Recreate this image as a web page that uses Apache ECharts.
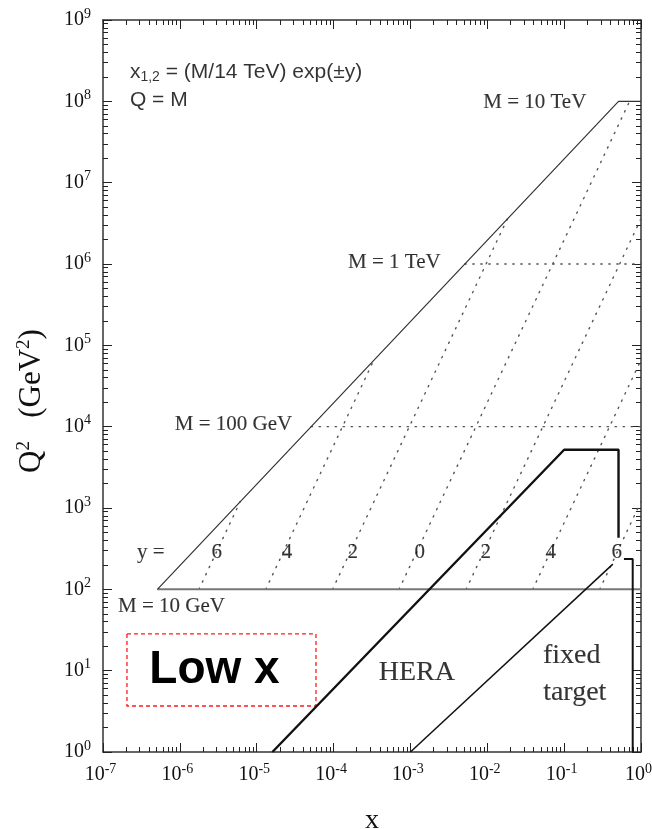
<!DOCTYPE html>
<html>
<head>
<meta charset="utf-8">
<title>LHC parton kinematics</title>
<script src="https://cdn.jsdelivr.net/npm/echarts@6/dist/echarts.min.js"></script>
<style>
  html, body { margin: 0; padding: 0; background: #fff; }
  #chart { width: 652px; height: 829px; }
</style>
</head>
<body>
<div id="chart"></div>
<script>
// axis decades (powers of ten) and minor tick multipliers
var xDecades = [-7, -6, -5, -4, -3, -2, -1, 0]
var yDecades = [0, 1, 2, 3, 4, 5, 6, 7, 8, 9]
var minorSteps = [2, 3, 4, 5, 6, 7, 8, 9]

// kinematic limit x = M^2/s, flat at M = 10 TeV
var limitX = [5.1e-7, 0.51, 1]
var limitQ2 = [1e2, 1e8, 1e8]

// M = 10 GeV
var floorX = [5.1e-7, 1]
var floorQ2 = [1e2, 1e2]

// constant rapidity lines, from Q^2 = 100 up to the limit (or x = 1)
var rapidityLabels = ['6', '4', '2', '0', '2', '4', '6']
var rapidityStartX = [1.77e-6, 1.31e-5, 9.7e-5, 7.1e-4, 5.3e-3, 3.9e-2, 0.29]
var rapidityEndX = [6.1e-6, 3.35e-4, 1.83e-2, 0.71, 1, 1, 1]
var rapidityEndQ2 = [1.2e3, 6.6e4, 3.6e6, 1e8, 3.6e6, 6.6e4, 1.2e3]

// M = 100 GeV, M = 1 TeV
var massStartX = [5.1e-5, 5.1e-3]
var massQ2 = [1e4, 1e6]

// HERA
var heraX = [1.6e-5, 0.1, 0.51, 0.51]
var heraQ2 = [1, 5.2e3, 5.2e3, 430]

// fixed target
var fixedX = [1e-3, 0.43]
var fixedQ2 = [1, 204]
var fixedEdgeX = [0.6, 0.78, 0.78]
var fixedEdgeQ2 = [236, 236, 1]

// "Low x" box corners [x, Q^2]
var lowXBox = [[2.05e-7, 28.3], [5.9e-5, 3.68]]

var SERIF = 'Liberation Serif'
var SANS = 'Liberation Sans'

function pts (xs, ys) {
  return xs.map(function (x, i) { return [Math.log10(x), Math.log10(ys[i])] })
}

function minorValues (decades) {
  var out = []
  decades.slice(0, -1).forEach(function (d) {
    minorSteps.forEach(function (k) { out.push(d + Math.log10(k)) })
  })
  return out
}

var powRich = {
  b: { fontFamily: SERIF, fontSize: 20, color: '#111' },
  s: { fontFamily: SERIF, fontSize: 14, color: '#111', padding: [0, 0, 12, 0] },
  p: { width: 5 }
}

function powLabel (v) {
  return '{b|10}{s|' + Math.round(v) + '}'
}
// x labels sit a little left of their tick
function powLabelX (v) {
  return powLabel(v) + '{p|}'
}

function axisDef (dim, position, minor, extra) {
  var decades = dim === 'x' ? xDecades : yDecades
  var a = {
    type: 'value',
    position: position,
    min: decades[0],
    max: decades[decades.length - 1],
    interval: 1,
    splitLine: { show: false },
    axisLine: { show: !minor, onZero: false, lineStyle: { color: '#333', width: 1.5 } },
    axisTick: {
      inside: true,
      length: minor ? 5 : 9,
      lineStyle: { color: '#222', width: 1 }
    },
    axisLabel: { show: false }
  }
  if (minor) a.axisTick.customValues = minorValues(decades)
  return Object.assign(a, extra || {})
}

var xAxes = [
  axisDef('x', 'bottom', false, {
    name: 'x',
    nameLocation: 'middle',
    nameGap: 55,
    nameTextStyle: { fontFamily: SERIF, fontSize: 28, color: '#111' },
    axisLabel: {
      show: true, margin: 10, showMinLabel: true, showMaxLabel: true,
      formatter: powLabelX, rich: powRich
    }
  }),
  axisDef('x', 'bottom', true),
  axisDef('x', 'top', false),
  axisDef('x', 'top', true)
]

var yAxes = [
  axisDef('y', 'left', false, {
    name: '{q|Q}{s|2}{q|   (GeV}{s|2}{q|)}',
    nameLocation: 'middle',
    nameRotate: 90,
    nameGap: 54,
    nameTextStyle: {
      padding: [0, 30, 0, 0],
      rich: {
        q: { fontFamily: SERIF, fontSize: 31, color: '#111' },
        s: { fontFamily: SERIF, fontSize: 19, color: '#111', padding: [0, 0, 15, 0] }
      }
    },
    axisLabel: {
      show: true, margin: 12, showMinLabel: true, showMaxLabel: true,
      formatter: powLabel, rich: powRich
    }
  }),
  axisDef('y', 'left', true),
  axisDef('y', 'right', false),
  axisDef('y', 'right', true)
]

function line (data, style, z) {
  return {
    type: 'line',
    data: data,
    symbol: 'none',
    silent: true,
    animation: false,
    z: z || 2,
    lineStyle: style
  }
}

var dotted = { color: '#555', width: 1.4, type: [1.4, 6.6], cap: 'round' }

var series = []
series.push(line(pts(floorX, floorQ2), { color: '#777', width: 2 }))
series.push(line(pts(limitX, limitQ2), { color: '#333', width: 1.2 }))
rapidityStartX.forEach(function (x0, i) {
  series.push(line(pts([x0, rapidityEndX[i]], [1e2, rapidityEndQ2[i]]), dotted, 1))
})
massStartX.forEach(function (x0, i) {
  series.push(line(pts([x0, 1], [massQ2[i], massQ2[i]]), dotted, 1))
})
var hera = line(pts(heraX, heraQ2), { color: '#111', width: 2.4 }, 3)
hera.markArea = {
  silent: true,
  itemStyle: { color: 'rgba(0,0,0,0)', borderColor: '#ff1a1a', borderWidth: 1.3, borderType: [4, 3] },
  label: {
    show: true, position: 'inside', offset: [-7, 0],
    fontFamily: SANS, fontSize: 46, fontWeight: 'bold', color: '#000'
  },
  data: [[
    { name: 'Low x', coord: pts([lowXBox[0][0]], [lowXBox[0][1]])[0] },
    { coord: pts([lowXBox[1][0]], [lowXBox[1][1]])[0] }
  ]]
}
series.push(hera)
series.push(line(pts(fixedX, fixedQ2), { color: '#111', width: 1.5 }, 3))
series.push(line(pts(fixedEdgeX, fixedEdgeQ2), { color: '#111', width: 2 }, 3))

// text notes: [text, x, Q^2, style]
var ink = { color: '#000', textBorderColor: '#000', textBorderWidth: 0.12 }
var serif21 = Object.assign({ fontFamily: SERIF, fontSize: 21 }, ink)
var serif28 = Object.assign({ fontFamily: SERIF, fontSize: 28 }, ink)
var notes = [
  ['{t|x}{sub|1,2}{t| = (M/14 TeV) exp(±y)}', 2.24e-7, 2.31e8, {
    align: 'left',
    rich: {
      t: { fontFamily: SANS, fontSize: 21, color: '#000' },
      sub: { fontFamily: SANS, fontSize: 14, color: '#000', padding: [10, 0, 0, 0] }
    }
  }],
  ['Q = M', 2.24e-7, 1.02e8, { align: 'left', fontFamily: SANS, fontSize: 21, color: '#000' }],
  ['M = 10 TeV', 0.0415, 9.6e7, serif21],
  ['M = 1 TeV', 6.18e-4, 1.04e6, serif21],
  ['M = 100 GeV', 4.98e-6, 1.05e4, serif21],
  ['M = 10 GeV', 7.78e-7, 60.8, serif21],
  ['y =', 4.2e-7, 280, serif21],
  ['HERA', 1.21e-3, 9.4, serif28],
  ['fixed', 0.1256, 15.5, serif28],
  ['target', 0.1374, 5.3, serif28]
]
var rapidityLabelX = [3.03e-6, 2.47e-5, 1.78e-4, 1.32e-3, 9.55e-3, 6.7e-2, 0.483]
rapidityLabels.forEach(function (t, i) {
  notes.push([t, rapidityLabelX[i], 280, serif21])
})

series.push({
  type: 'scatter',
  silent: true,
  animation: false,
  symbolSize: 1,
  itemStyle: { color: 'rgba(0,0,0,0)' },
  z: 5,
  data: notes.map(function (n) {
    var lbl = Object.assign({
      show: true, position: 'inside', formatter: n[0],
      textBorderWidth: 0, textBorderColor: 'transparent'
    }, n[3])
    return { value: pts([n[1]], [n[2]])[0], label: lbl }
  })
})

var chart = echarts.init(document.getElementById('chart'))
chart.setOption({
  backgroundColor: '#fff',
  animation: false,
  grid: { left: 103, right: 11, top: 20, bottom: 77, containLabel: false, outerBoundsMode: 'none' },
  xAxis: xAxes,
  yAxis: yAxes,
  series: series
})
</script>
</body>
</html>
